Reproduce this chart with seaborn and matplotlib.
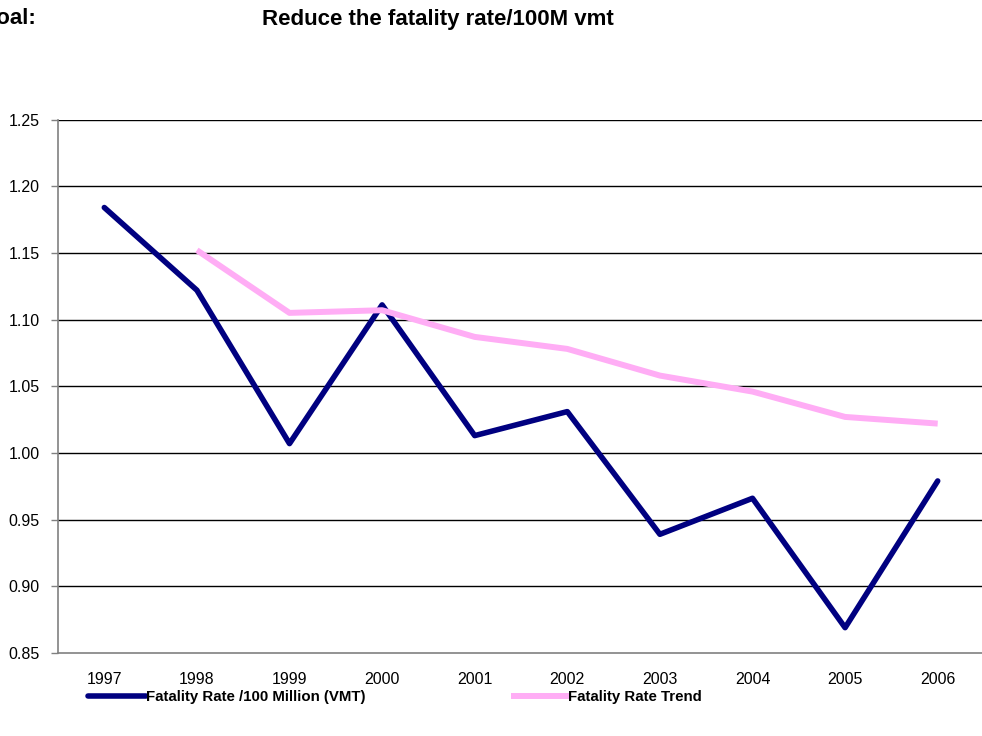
import matplotlib
matplotlib.use("Agg")
import matplotlib.pyplot as plt
import seaborn as sns
import numpy as np
import pandas as pd

years = [1997, 1998, 1999, 2000, 2001, 2002, 2003, 2004, 2005, 2006]
fatality_rate = [1.184, 1.122, 1.007, 1.111, 1.013, 1.031, 0.939, 0.966, 0.869, 0.979]
trend_rate = [np.nan, 1.152, 1.105, 1.107, 1.087, 1.078, 1.058, 1.046, 1.027, 1.022]
y_ticks = [0.85, 0.90, 0.95, 1.00, 1.05, 1.10, 1.15, 1.20, 1.25]

rate_label = "Fatality Rate /100 Million (VMT)"
trend_label = "Fatality Rate Trend"

df = pd.DataFrame({"year": years, "rate": fatality_rate, "trend": trend_rate})

sns.set_style("white")
plt.rcParams['font.family'] = ['Liberation Sans', 'DejaVu Sans']
plt.rcParams['text.color'] = 'black'
plt.rcParams['xtick.labelcolor'] = 'black'
plt.rcParams['ytick.labelcolor'] = 'black'

fig = plt.figure(figsize=(9.82, 7.36), dpi=100)
ax = fig.add_axes([58 / 982, 83 / 736, 926 / 982, 533.5 / 736])

sns.lineplot(data=df, x="year", y="rate", ax=ax, color="#000080", linewidth=4.0,
             label=rate_label, solid_capstyle="round")
sns.lineplot(data=df.dropna(), x="year", y="trend", ax=ax, color="#FFADF5", linewidth=4.3,
             label=trend_label, solid_capstyle="butt")

ax.set_xlim(1996.5, 2006.5)
ax.set_ylim(0.85, 1.25)
ax.set_yticks(y_ticks)
ax.set_yticklabels([f"{v:.2f}" for v in y_ticks], fontsize=11.5)
ax.set_xticks(years)
ax.set_xticklabels([str(y) for y in years], fontsize=11.5)
ax.set_xticks([y + 0.5 for y in years[:-1]], minor=True)
ax.tick_params(axis="x", which="major", length=0, pad=14)
ax.tick_params(axis="x", which="minor", length=5, color="#808080", width=1, direction="out")
ax.tick_params(axis="y", length=5, color="#808080", width=1, direction="out", pad=8, left=True)
ax.set_xlabel("")
ax.set_ylabel("")

# Excel-style black gridlines
for v in y_ticks[1:]:
    ax.axhline(v, color="black", linewidth=1, zorder=0)

for side in ["top", "right"]:
    ax.spines[side].set_visible(False)
for side in ["left", "bottom"]:
    ax.spines[side].set_color("#808080")
    ax.spines[side].set_linewidth(1.2)

ax.get_legend().remove()
handles, labels = ax.get_legend_handles_labels()
fig.legend(handles, labels, loc="center left", bbox_to_anchor=(88 / 982, 1 - 697 / 736),
           ncol=2, frameon=False, handlelength=3.85, handletextpad=0.0, columnspacing=9.7,
           borderpad=0, borderaxespad=0, prop={"weight": "bold", "size": 10.8})

fig.text(36 / 982, 1 - 19 / 736, "Goal:", ha="right", va="center", fontsize=16, fontweight="bold")
fig.text(262 / 982, 1 - 19 / 736, "Reduce the fatality rate/100M vmt", ha="left", va="center",
         fontsize=16, fontweight="bold")

fig.savefig("out.png", dpi=100)
